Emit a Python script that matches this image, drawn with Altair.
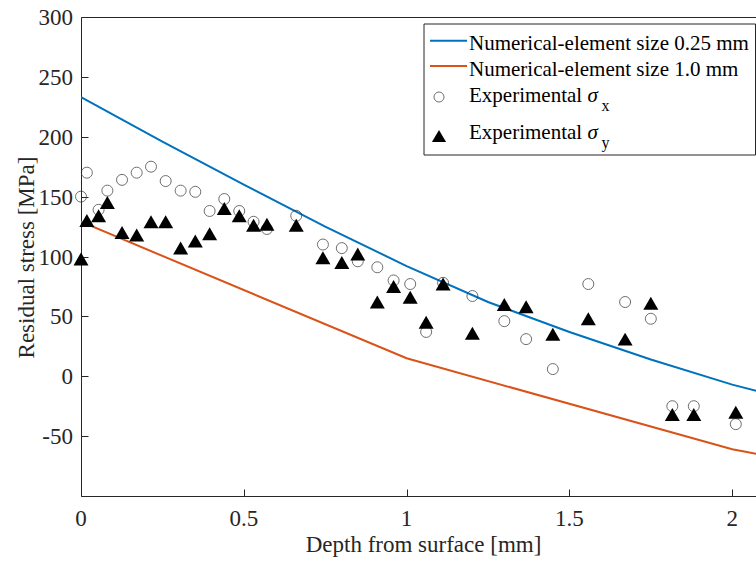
import altair as alt
import pandas as pd

# ---------------- data ----------------
depth = [0.000, 0.018, 0.054, 0.081, 0.126, 0.171, 0.215, 0.260, 0.306, 0.351,
         0.395, 0.440, 0.486, 0.530, 0.571, 0.661, 0.743, 0.801, 0.850, 0.910,
         0.960, 1.011, 1.060, 1.112, 1.202, 1.300, 1.367, 1.449, 1.558, 1.671,
         1.750, 1.816, 1.882, 2.011]
sigma_x = [150, 170, 139, 155, 164, 170, 175, 163, 155, 154,
           138, 148, 138, 129, 123, 134, 110, 107, 96, 91,
           80, 77, 37, 78, 67, 46, 31, 6, 77, 62,
           48, -25, -25, -40]
sigma_y = [98, 130, 134, 145, 120, 118, 129, 129, 107, 113,
           119, 140, 134, 126, 127, 126, 99, 95, 102, 62,
           75, 66, 45, 77, 36, 60, 58, 35, 48, 31,
           61, -32, -32, -30]

fine_depth = [0.0, 0.25, 0.5, 0.75, 1.0, 1.25, 1.5, 1.75, 2.0, 2.1]
fine_stress = [233, 196, 160, 125, 92, 62, 37, 14, -7, -14]
coarse_depth = [0.0, 1.0, 2.0, 2.1]
coarse_stress = [129, 15, -61, -66]

series_names = ["Numerical-element size 0.25 mm", "Numerical-element size 1.0 mm"]
series_colors = ["#0072BD", "#D95319"]
exp_label = "Experimental"
exp_subscripts = ["x", "y"]

x_ticks = [0, 0.5, 1, 1.5, 2]
y_ticks = [-50, 0, 50, 100, 150, 200, 250, 300]
x_tick_labels = ["0", "0.5", "1", "1.5", "2"]
y_tick_labels = ["-50", "0", "50", "100", "150", "200", "250", "300"]
X_MAX = 2.073
Y_MIN, Y_MAX = -100, 300

# ---------------- tables ----------------
line_df = pd.concat([
    pd.DataFrame({"depth": fine_depth, "stress": fine_stress, "series": series_names[0]}),
    pd.DataFrame({"depth": coarse_depth, "stress": coarse_stress, "series": series_names[1]}),
])
exp_df = pd.DataFrame({"depth": depth, "sx": sigma_x, "sy": sigma_y})
xlab_df = pd.DataFrame({"v": x_ticks, "t": x_tick_labels})
ylab_df = pd.DataFrame({"v": y_ticks, "t": y_tick_labels})
one = pd.DataFrame({"k": [0]})

FONT = "Liberation Serif"
AX = "#262626"
W, H = 675, 479

xs = alt.Scale(domain=[0, X_MAX], nice=False, zero=False)
ys = alt.Scale(domain=[Y_MIN, Y_MAX], nice=False, zero=False)

main_x_axis = alt.Axis(orient="bottom", values=x_ticks, ticks=False, labels=False,
                       domainColor=AX, domainWidth=1, grid=False,
                       title="Depth from surface [mm]", titleFont=FONT,
                       titleFontSize=23, titleFontWeight="normal", titleColor=AX,
                       titleX=342, titleY=55, titleBaseline="alphabetic", titleAlign="center")
main_y_axis = alt.Axis(orient="left", values=y_ticks, ticks=False, labels=False,
                       domainColor=AX, domainWidth=1, grid=False,
                       title="Residual stress [MPa]", titleFont=FONT,
                       titleFontSize=23, titleFontWeight="normal", titleColor=AX,
                       titleX=-48, titleY=240, titleAngle=270, titleBaseline="alphabetic",
                       titleAlign="center")
tick_x_axis = alt.Axis(orient="bottom", values=x_ticks, offset=-7, tickSize=7, tickColor=AX,
                       tickWidth=1, labels=False, domain=False, grid=False, title=None)
tick_y_axis = alt.Axis(orient="left", values=y_ticks, offset=-7, tickSize=7, tickColor=AX,
                       tickWidth=1, labels=False, domain=False, grid=False, title=None)
top_x_axis = alt.Axis(orient="top", ticks=False, labels=False, domain=True, domainColor=AX,
                      domainWidth=1, grid=False, title=None)

lines = alt.Chart(line_df).mark_line(strokeWidth=2, clip=True).encode(
    x=alt.X("depth:Q", scale=xs, axis=main_x_axis),
    y=alt.Y("stress:Q", scale=ys, axis=main_y_axis),
    color=alt.Color("series:N", scale=alt.Scale(domain=series_names, range=series_colors),
                    legend=None),
)

circles = alt.Chart(exp_df).mark_point(shape="circle", filled=False, size=121,
                                       stroke="#333333", strokeWidth=1).encode(
    x=alt.X("depth:Q", scale=xs, axis=tick_x_axis),
    y=alt.Y("sx:Q", scale=ys, axis=tick_y_axis),
)

triangles = alt.Chart(exp_df).mark_point(shape="triangle-up", filled=True, size=225,
                                         color="black", opacity=1).encode(
    x=alt.X("depth:Q", scale=xs, axis=top_x_axis),
    y=alt.Y("sy:Q", scale=ys, axis=None),
)

# tick labels as text through the scales (serif font)
xlabels = alt.Chart(xlab_df).mark_text(font=FONT, fontSize=23, color=AX, align="center",
                                       baseline="alphabetic").encode(
    x=alt.X("v:Q", scale=xs, axis=None), y=alt.value(H + 30), text="t:N")
ylabels = alt.Chart(ylab_df).mark_text(font=FONT, fontSize=23, color=AX, align="right",
                                       baseline="middle", dy=1).encode(
    x=alt.value(-8), y=alt.Y("v:Q", scale=ys, axis=None), text="t:N")

# ---------------- legend (drawn by hand so that subscripts are possible) ----------------
leg_layers = [
    alt.Chart(one).mark_rect(fill="white", stroke=AX, strokeWidth=1).encode(
        x=alt.value(343), x2=alt.value(674.5), y=alt.value(7), y2=alt.value(138))
]
row_line_y = [23.7, 49]
row_line_base = [32.5, 58.5]
for i in range(2):
    leg_layers.append(alt.Chart(one).mark_rule(color=series_colors[i], strokeWidth=2).encode(
        x=alt.value(349), x2=alt.value(386), y=alt.value(row_line_y[i])))
    leg_layers.append(alt.Chart(one).mark_text(
        text=series_names[i], font=FONT, fontSize=21, color="black", align="left",
        baseline="alphabetic").encode(x=alt.value(388), y=alt.value(row_line_base[i])))

leg_layers.append(alt.Chart(one).mark_point(shape="circle", filled=False, size=100,
                                            stroke="#333333", strokeWidth=1).encode(
    x=alt.value(358), y=alt.value(80)))
leg_layers.append(alt.Chart(one).mark_point(shape="triangle-up", filled=True, size=200,
                                            color="black", opacity=1).encode(
    x=alt.value(358), y=alt.value(119)))
row_exp_base = [84.5, 121.5]
for i in range(2):
    leg_layers.append(alt.Chart(one).mark_text(
        text=exp_label, font=FONT, fontSize=21, color="black", align="left",
        baseline="alphabetic").encode(x=alt.value(388), y=alt.value(row_exp_base[i])))
    leg_layers.append(alt.Chart(one).mark_text(
        text="σ", font=FONT, fontSize=21, fontStyle="italic", color="black", align="left",
        baseline="alphabetic").encode(x=alt.value(506.5), y=alt.value(row_exp_base[i])))
    leg_layers.append(alt.Chart(one).mark_text(
        text=exp_subscripts[i], font=FONT, fontSize=16, color="black", align="left",
        baseline="alphabetic").encode(x=alt.value(520.5), y=alt.value(row_exp_base[i] + 9)))

chart = alt.layer(lines, circles, triangles, xlabels, ylabels, *leg_layers).resolve_axis(
    x="independent", y="independent"
).properties(
    width=W, height=H,
    padding={"left": 81, "top": 17, "right": 0, "bottom": 65},
    autosize=alt.AutoSizeParams(type="none"),
    background="white",
).configure(
    font=FONT
).configure_view(stroke=None)

chart.save("out.html", embed_options={"renderer": "svg", "actions": False})
